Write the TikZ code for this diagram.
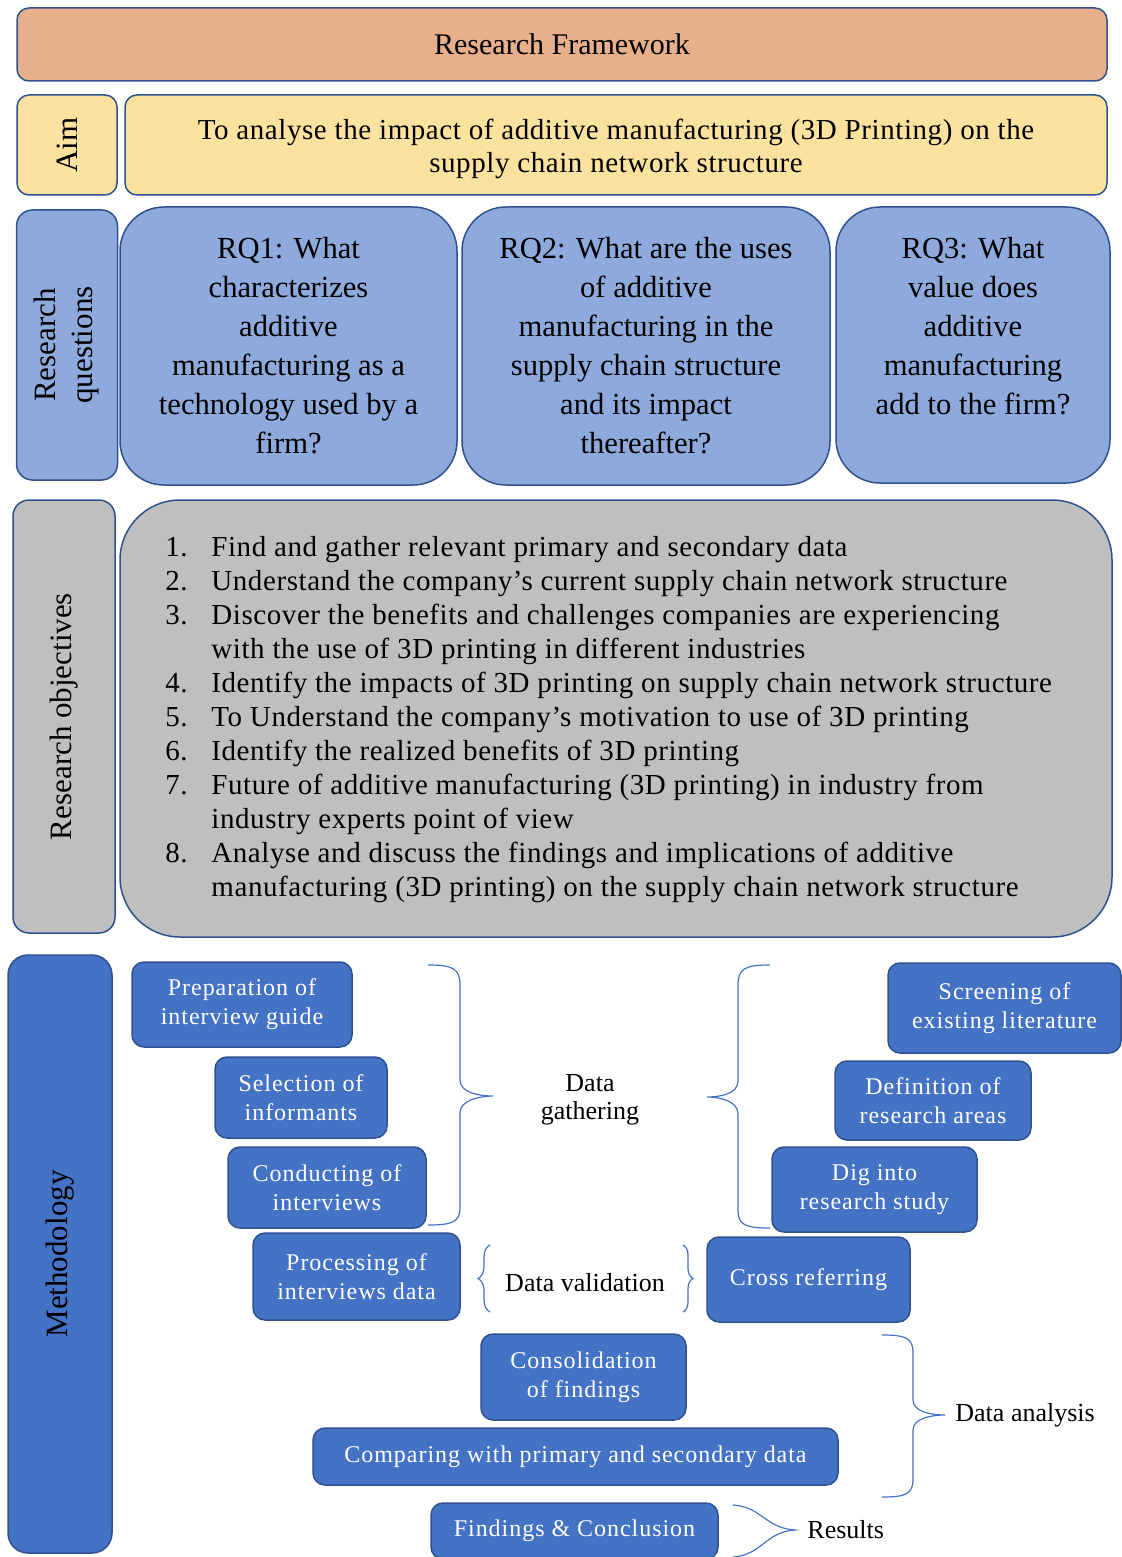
\documentclass[tikz,border=0pt]{standalone}
\usepackage{fontspec}
\setmainfont{Liberation Serif}
\newfontfamily\boxfont[LetterSpace=4]{Liberation Serif}
\newfontfamily\widefont[LetterSpace=2]{Liberation Serif}
\usetikzlibrary{decorations.pathreplacing}
\definecolor{HeadOrange}{HTML}{E8B08A}
\definecolor{AimYellow}{HTML}{FBE29E}
\definecolor{QuestBlue}{HTML}{8EA9DB}
\definecolor{ObjGray}{HTML}{BFBFBF}
\definecolor{MethBlue}{HTML}{4472C4}
\definecolor{EdgeBlue}{HTML}{2F528F}

\begin{document}
\begin{tikzpicture}[x=0.5pt, y=-0.5pt,
    panel/.style={draw=EdgeBlue, line width=0.75pt, rounded corners=6pt, inner sep=0pt, align=center},
    sidelabel/.style={panel, rotate=90, font=\fontsize{15.5}{18.5}\selectfont},
    rqbox/.style={panel, fill=QuestBlue, rounded corners=22pt, font=\fontsize{15.3}{19.5}\selectfont},
    mbox/.style={panel, fill=MethBlue, text=white, font=\boxfont\fontsize{12}{14.5}\selectfont},
    bracelabel/.style={inner sep=0pt, align=center, font=\fontsize{13}{14}\selectfont},
    braceline/.style={draw=MethBlue, line width=0.6pt}]
\useasboundingbox (0,0) rectangle (1122,1557);

% Header and aim
\node[panel, fill=HeadOrange, minimum width=545pt, minimum height=36.5pt,
      font=\fontsize{15}{18}\selectfont] (frame) at (562,44.5) {Research Framework};
\node[sidelabel, fill=AimYellow, minimum width=50pt, minimum height=50pt] (aimlab) at (67,145) {Aim};
\node[panel, fill=AimYellow, minimum width=491pt, minimum height=50pt] (aim) at (616,145) {};
\node[align=center, inner sep=0pt, font=\widefont\fontsize{14.5}{16.5}\selectfont] (aimtxt) at (616,149)
      {To analyse the impact of additive manufacturing (3D Printing) on the\\supply chain network structure};

% Research questions
\node[sidelabel, fill=QuestBlue, rounded corners=8pt, minimum width=135pt, minimum height=50.5pt] (rqlab) at (67,345) {Research\\questions};
\node[rqbox, minimum width=168.5pt, minimum height=139pt] (rq1) at (288.5,346)
      {RQ1: What\\characterizes\\additive\\manufacturing as a\\technology used by a\\firm?};
\node[rqbox, minimum width=184pt, minimum height=139pt] (rq2) at (646,346)
      {RQ2: What are the uses\\of additive\\manufacturing in the\\supply chain structure\\and its impact\\thereafter?};
\node[rqbox, minimum width=137pt, minimum height=138pt] (rq3) at (973,345) {};
\node[align=center, inner sep=0pt, font=\fontsize{15.3}{19.5}\selectfont] (rq3txt) at (973,326)
      {RQ3: What\\value does\\additive\\manufacturing\\add to the firm?};

% Research objectives
\node[sidelabel, fill=ObjGray, rounded corners=8pt, minimum width=216.5pt, minimum height=51pt] (objlab) at (64,716.5) {Research objectives};
\node[panel, fill=ObjGray, rounded corners=30pt, minimum width=496pt, minimum height=218.5pt] (obj) at (616,718.5) {};
\node[anchor=base west, inner sep=0pt, font=\widefont\fontsize{14.5}{17}\selectfont] (objlist) at (165,556)
  {\begin{tabular}[t]{@{}p{23pt}@{}l@{}}
   1. & Find and gather relevant primary and secondary data\\
   2. & Understand the company’s current supply chain network structure\\
   3. & Discover the benefits and challenges companies are experiencing\\
      & with the use of 3D printing in different industries\\
   4. & Identify the impacts of 3D printing on supply chain network structure\\
   5. & To Understand the company’s motivation to use of 3D printing\\
   6. & Identify the realized benefits of 3D printing\\
   7. & Future of additive manufacturing (3D printing) in industry from\\
      & industry experts point of view\\
   8. & Analyse and discuss the findings and implications of additive\\
      & manufacturing (3D printing) on the supply chain network structure
   \end{tabular}};

% Methodology
\node[sidelabel, fill=MethBlue, rounded corners=10pt, minimum width=299pt, minimum height=52pt] (methlab) at (60,1254) {Methodology};

\node[mbox, minimum width=110pt, minimum height=42.5pt] (prep) at (242,1004.5) {Preparation of\\interview guide};
\node[mbox, minimum width=86pt, minimum height=40.5pt] (select) at (301,1097.5) {Selection of\\informants};
\node[mbox, minimum width=99pt, minimum height=40.5pt] (conduct) at (327,1187.5) {Conducting of\\interviews};
\node[mbox, minimum width=103.5pt, minimum height=43.5pt] (process) at (356.5,1276.5) {Processing of\\interviews data};

\node[mbox, minimum width=116.5pt, minimum height=45pt] (screen) at (1004.5,1008) {Screening of\\existing literature};
\node[mbox, minimum width=98pt, minimum height=39.5pt] (define) at (933,1100.5) {Definition of\\research areas};
\node[mbox, minimum width=102.5pt, minimum height=42.5pt] (dig) at (874.5,1189.5) {Dig into\\research study};
\node[mbox, minimum width=101.5pt, minimum height=42.5pt] (cross) at (808.5,1279.5) {Cross referring};

\node[mbox, minimum width=102.5pt, minimum height=43pt] (consol) at (583.5,1377) {Consolidation\\of findings};
\node[mbox, minimum width=262.5pt, minimum height=28.5pt] (compare) at (575.5,1456.5) {Comparing with primary and secondary data};
\node[mbox, minimum width=143.5pt, minimum height=28pt] (findings) at (574.5,1531) {Findings \& Conclusion};

% Braces and their labels
\coordinate (gatherLtop) at (428,965);
\coordinate (gatherLbot) at (428,1225);
\coordinate (gatherRtop) at (770,965);
\coordinate (gatherRbot) at (770,1228);
\draw[braceline] (gatherLtop) .. controls (452,965) and (460,968) .. (460,985) -- (460,1080)
      .. controls (460,1093) and (480,1096) .. (493,1096) .. controls (480,1096) and (460,1100) .. (460,1113)
      -- (460,1208) .. controls (460,1222) and (452,1225) .. (gatherLbot);
\draw[braceline] (gatherRtop) .. controls (746,965) and (738,968) .. (738,985) -- (738,1081)
      .. controls (738,1094) and (720,1097) .. (707,1097) .. controls (720,1097) and (738,1101) .. (738,1114)
      -- (738,1211) .. controls (738,1225) and (746,1228) .. (gatherRbot);
\node[bracelabel] (gather) at (590,1100) {Data\\gathering};

\coordinate (validLtop) at (490,1245);
\coordinate (validLbot) at (490,1312);
\coordinate (validRtop) at (683,1245);
\coordinate (validRbot) at (683,1312);
\draw[braceline, decorate, decoration={brace, amplitude=6pt}] (validLbot) -- (validLtop);
\draw[braceline, decorate, decoration={brace, amplitude=5pt}] (validRtop) -- (validRbot);
\node[bracelabel] (valid) at (585,1283) {Data validation};

\coordinate (analysisTop) at (882,1335);
\coordinate (analysisBot) at (882,1497);
\draw[braceline] (analysisTop) .. controls (906,1335) and (913,1338) .. (913,1353) -- (913,1400)
      .. controls (913,1412) and (932,1415) .. (945,1415) .. controls (932,1415) and (913,1418) .. (913,1430)
      -- (913,1479) .. controls (913,1494) and (906,1497) .. (analysisBot);
\node[bracelabel, anchor=west] (analysis) at (955,1415) {Data analysis};

\coordinate (resultTop) at (733,1505);
\coordinate (resultBot) at (733,1557);
\node[bracelabel, anchor=west] (results) at (807,1530) {Results};
\draw[braceline] (resultTop) .. controls (762,1507) and (765,1528) .. (795,1530)
      .. controls (765,1532) and (762,1555) .. (resultBot);
\end{tikzpicture}
\end{document}
